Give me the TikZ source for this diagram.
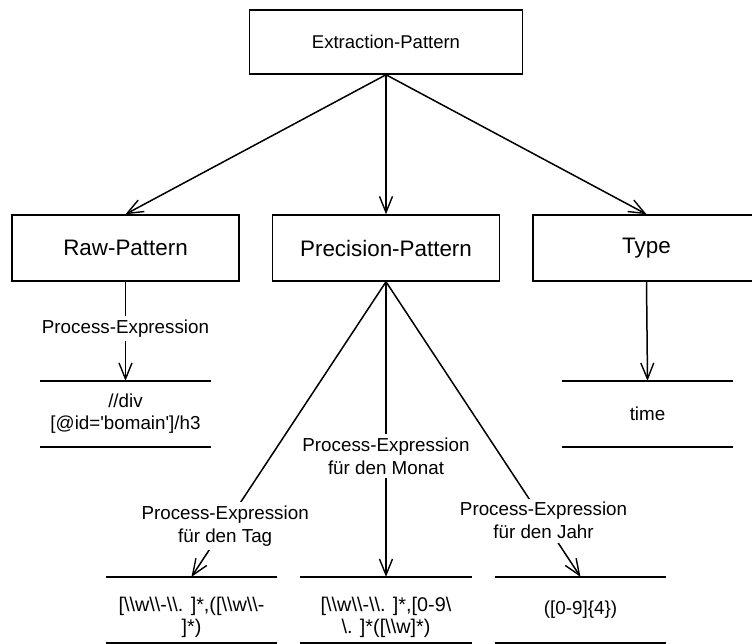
\documentclass[tikz,border=0pt]{standalone}
\usepackage{fontspec}
\newfontfamily\lsans{Liberation Sans}
\usetikzlibrary{arrows.meta}
\newcommand{\bs}{\textbackslash}
\tikzset{
  rulew/.style={line width=1.5pt},
  arr/.style={rulew, -{Straight Barb[length=16pt,width=13pt,line width=1.4pt]}},
  topbox/.style={draw, rulew, minimum width=273pt, minimum height=64pt, inner sep=0pt,
    font=\lsans\fontsize{18.5}{22}\selectfont},
  box/.style={draw, rulew, minimum width=227pt, minimum height=66pt, inner sep=0pt,
    font=\lsans\fontsize{22.4}{26}\selectfont},
  store/.style={minimum width=171pt, minimum height=66pt, inner sep=0pt, align=center,
    font=\lsans\fontsize{18.8}{22}\selectfont},
  regex/.style={store, font=\lsans\fontsize{19.8}{21.5}\selectfont},
  lbl/.style={fill=white, inner sep=3.5pt, align=center,
    font=\lsans\fontsize{18.8}{23}\selectfont},
}
\begin{document}
\begin{tikzpicture}[x=1pt, y=-1pt]
  \useasboundingbox (0,0) rectangle (752,643);

  % pattern boxes
  \node[topbox] (ext)  at (386,42)    {Extraction-Pattern};
  \node[box]    (raw)  at (125.5,248) {Raw-Pattern};
  \node[box]    (prec) at (386,248)   {Precision-Pattern};
  \node[box]    (type) at (646.5,248) {Type};

  % value stores (open boxes: rule above and below)
  \node[store] (rawv)  at (125.5,414) {//div\\{[}@id='bomain']/h3};
  \node[store] (typev) at (647.5,414) {time};
  \node[regex] (tagv)  at (191.5,610)
    {\raisebox{-8pt}[\height][\depth]{\begin{tabular}{@{}c@{}}{[}\bs\bs w\bs\bs-\bs\bs. ]*,({[}\bs\bs w\bs\bs-\\]*)\end{tabular}}};
  \node[regex] (monv)  at (386,610)
    {\raisebox{-8pt}[\height][\depth]{\begin{tabular}{@{}c@{}}{[}\bs\bs w\bs\bs-\bs\bs. ]*,[0-9\bs\\\bs. ]*({[}\bs\bs w]*)\end{tabular}}};
  \node[store] (jahrv) at (580.5,610) {([0-9]\{4\})};

  \foreach \s in {rawv,typev,tagv,monv,jahrv}{
    \draw[rulew] (\s.north west) -- (\s.north east);
    \draw[rulew] (\s.south west) -- (\s.south east);
  }

  % connectors
  \draw[arr] (ext.south) -- (raw.north);
  \draw[arr] (ext.south) -- (prec.north);
  \draw[arr] (ext.south) -- (type.north);

  \draw[arr] (raw.south) -- node[lbl, pos=0.47] {Process-Expression} (rawv.north);
  \draw[arr] (type.south) -- (typev.north);

  \draw[arr] (prec.south) -- node[lbl, pos=0.827] {Process-Expression\\für den Tag} (tagv.north);
  \draw[arr] (prec.south) -- node[lbl, pos=0.59] {Process-Expression\\für den Monat} (monv.north);
  \draw[arr] (prec.south) -- node[lbl, pos=0.81] {Process-Expression\\für den Jahr} (jahrv.north);
\end{tikzpicture}
\end{document}
